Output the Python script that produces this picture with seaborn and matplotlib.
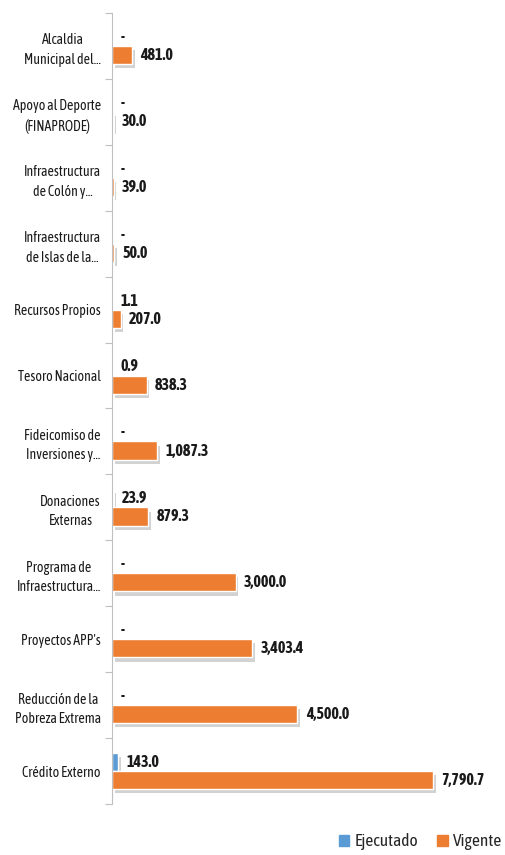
import numpy as np
import pandas as pd
import seaborn as sns
import matplotlib.pyplot as plt
import matplotlib.patheffects as pe
from matplotlib.patches import Patch

# Data (top to bottom)
categorias = [
    "Alcaldia\nMunicipal del...",
    "Apoyo al Deporte\n(FINAPRODE)",
    "Infraestructura\nde Colón y...",
    "Infraestructura\nde Islas de la...",
    "Recursos Propios",
    "Tesoro Nacional",
    "Fideicomiso de\nInversiones y...",
    "Donaciones\nExternas",
    "Programa de\nInfraestructura...",
    "Proyectos APP's",
    "Reducción de la\nPobreza Extrema",
    "Crédito Externo",
]
ejecutado = [0, 0, 0, 0, 1.1, 0.9, 0, 23.9, 0, 0, 0, 143.0]
vigente = [481.0, 30.0, 39.0, 50.0, 207.0, 838.3, 1087.3, 879.3, 3000.0, 3403.4, 4500.0, 7790.7]
series = ["Ejecutado", "Vigente"]
colores = ["#5B9BD5", "#ED7D31"]

df = pd.DataFrame({
    "Categoria": categorias * 2,
    "Serie": [series[0]] * len(categorias) + [series[1]] * len(categorias),
    "Valor": ejecutado + vigente,
})

sns.set_style("white")
plt.rcParams["font.family"] = ["Asap Condensed", "DejaVu Sans"]

fig = plt.figure(figsize=(5.05, 8.55), dpi=100)
ax = fig.add_axes([112 / 505, 51 / 855, 383 / 505, 791 / 855])

sns.barplot(data=df, y="Categoria", x="Valor", hue="Serie", hue_order=series,
            palette=colores, width=0.55, saturation=1, errorbar=None,
            orient="h", legend=False, ax=ax)

# soft drop shadow like the spreadsheet chart
for bar in ax.patches:
    bar.set_path_effects([pe.SimplePatchShadow(offset=(2, -3), shadow_rgbFace="#808080", alpha=0.35),
                          pe.Normal()])

def fmt(v):
    return "-" if v == 0 else f"{v:,.1f}"

for cont, vals in zip(ax.containers, [ejecutado, vigente]):
    ax.bar_label(cont, labels=[fmt(v) for v in vals], padding=6,
                 fontsize=11.5, fontweight="bold", color="#1a1a1a")

ax.set_xlim(0, 9300)
ax.set_xlabel("")
ax.set_ylabel("")
ax.xaxis.set_visible(False)
for s in ["top", "right", "bottom"]:
    ax.spines[s].set_visible(False)
ax.spines["left"].set_color("#BFBFBF")

ax.tick_params(axis="y", which="major", length=0, pad=8, labelsize=10, colors="#1a1a1a")
for lab in ax.get_yticklabels():
    lab.set_multialignment("center")
    lab.set_linespacing(1.5)
ax.set_yticks(np.arange(-0.5, len(categorias), 1), minor=True)
ax.tick_params(axis="y", which="minor", left=True, length=5, width=0.8, color="#BFBFBF")

handles = [Patch(color=c) for c in colores]
fig.legend(handles, series, loc="lower right", bbox_to_anchor=(1.025, -0.013), ncol=2,
           frameon=False, handlelength=0.6, handleheight=0.6, handletextpad=0.3,
           columnspacing=1.1, fontsize=12.5)

fig.savefig("out.png", dpi=100)
